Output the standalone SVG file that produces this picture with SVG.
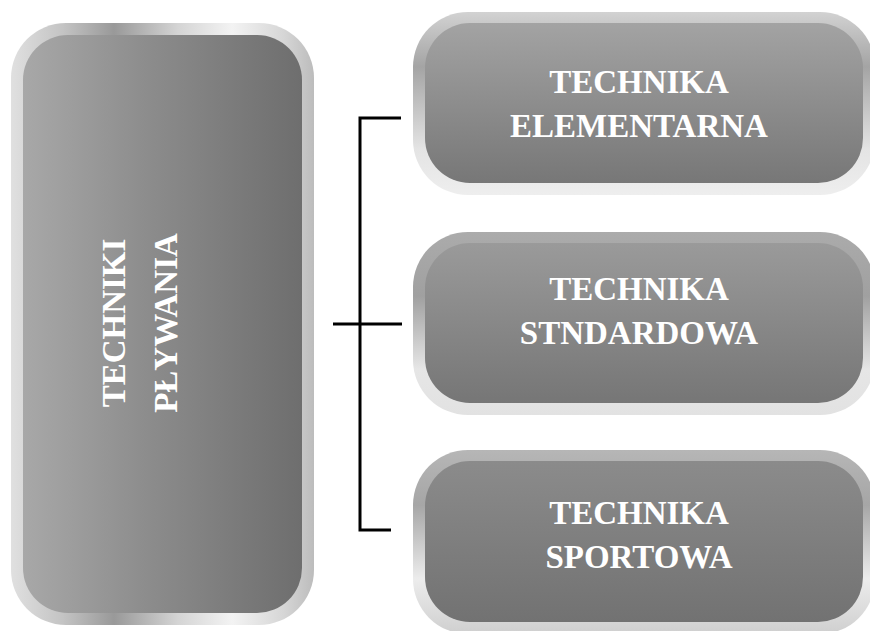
<svg xmlns="http://www.w3.org/2000/svg" width="870" height="631" viewBox="0 0 870 631">
  <defs>
    <!-- bevel of the tall left panel -->
    <linearGradient id="leftRim" x1="0" y1="0" x2="1" y2="0">
      <stop offset="0" stop-color="#e0e0e0"/>
      <stop offset="0.17" stop-color="#c4c4c4"/>
      <stop offset="0.34" stop-color="#999999"/>
      <stop offset="0.55" stop-color="#d4d4d4"/>
      <stop offset="0.73" stop-color="#f3f3f3"/>
      <stop offset="0.9" stop-color="#d6d6d6"/>
      <stop offset="1" stop-color="#bcbcbc"/>
    </linearGradient>
    <linearGradient id="leftFace" x1="0" y1="0" x2="1" y2="0">
      <stop offset="0" stop-color="#a8a8a8"/>
      <stop offset="0.45" stop-color="#8c8c8c"/>
      <stop offset="1" stop-color="#6e6e6e"/>
    </linearGradient>
    <!-- bevels of the three right panels -->
    <linearGradient id="rim1" x1="0" y1="0" x2="0" y2="1">
      <stop offset="0" stop-color="#d2d2d2"/>
      <stop offset="0.3" stop-color="#a4a4a4"/>
      <stop offset="0.75" stop-color="#e4e4e4"/>
      <stop offset="1" stop-color="#eeeeee"/>
    </linearGradient>
    <linearGradient id="rim2" x1="0" y1="0" x2="0" y2="1">
      <stop offset="0" stop-color="#ababab"/>
      <stop offset="0.35" stop-color="#a0a0a0"/>
      <stop offset="0.75" stop-color="#e6e6e6"/>
      <stop offset="1" stop-color="#e2e2e2"/>
    </linearGradient>
    <linearGradient id="rim3" x1="0" y1="0" x2="0" y2="1">
      <stop offset="0" stop-color="#b6b6b6"/>
      <stop offset="0.3" stop-color="#a6a6a6"/>
      <stop offset="0.7" stop-color="#ececec"/>
      <stop offset="1" stop-color="#cfcfcf"/>
    </linearGradient>
    <linearGradient id="face1" x1="0" y1="0" x2="0" y2="1">
      <stop offset="0" stop-color="#a3a3a3"/>
      <stop offset="1" stop-color="#777777"/>
    </linearGradient>
    <linearGradient id="face2" x1="0" y1="0" x2="0" y2="1">
      <stop offset="0" stop-color="#9a9a9a"/>
      <stop offset="1" stop-color="#767676"/>
    </linearGradient>
    <linearGradient id="face3" x1="0" y1="0" x2="0" y2="1">
      <stop offset="0" stop-color="#8b8b8b"/>
      <stop offset="1" stop-color="#727272"/>
    </linearGradient>
  </defs>
  <style>
    .label { font-family: "Liberation Serif", "Times New Roman", serif; font-weight: bold; fill: #ffffff; text-anchor: middle; }
    .side { font-size: 33px; }
    .main { font-size: 33px; }
    .wire { fill: none; stroke: #000000; stroke-width: 3; stroke-linejoin: miter; stroke-linecap: butt; }
  </style>

  <g id="techniki-plywania">
    <rect x="11" y="23" width="303" height="602" rx="55" ry="55" fill="url(#leftRim)"/>
    <rect x="23" y="35" width="279" height="578" rx="45" ry="45" fill="url(#leftFace)"/>
    <text class="label main" transform="translate(125,323) rotate(-90)">TECHNIKI</text>
    <text class="label main" transform="translate(177,323) rotate(-90)">PŁYWANIA</text>
  </g>

  <g id="connectors">
    <path class="wire" d="M401,118 H360 V530 H391"/>
    <path class="wire" d="M333,324 H402"/>
  </g>

  <g id="technika-elementarna">
    <rect x="413" y="12" width="462" height="183" rx="55" ry="55" fill="url(#rim1)"/>
    <rect x="425" y="23" width="438" height="160" rx="45" ry="45" fill="url(#face1)"/>
    <text class="label side" x="639" y="93">TECHNIKA</text>
    <text class="label side" x="639" y="137">ELEMENTARNA</text>
  </g>

  <g id="technika-standardowa">
    <rect x="413" y="232" width="462" height="183" rx="55" ry="55" fill="url(#rim2)"/>
    <rect x="425" y="243" width="438" height="160" rx="45" ry="45" fill="url(#face2)"/>
    <text class="label side" x="639" y="300">TECHNIKA</text>
    <text class="label side" x="639" y="344">STNDARDOWA</text>
  </g>

  <g id="technika-sportowa">
    <rect x="413" y="450" width="462" height="184" rx="55" ry="55" fill="url(#rim3)"/>
    <rect x="425" y="461" width="438" height="161" rx="45" ry="45" fill="url(#face3)"/>
    <text class="label side" x="639" y="524">TECHNIKA</text>
    <text class="label side" x="639" y="568">SPORTOWA</text>
  </g>
</svg>
